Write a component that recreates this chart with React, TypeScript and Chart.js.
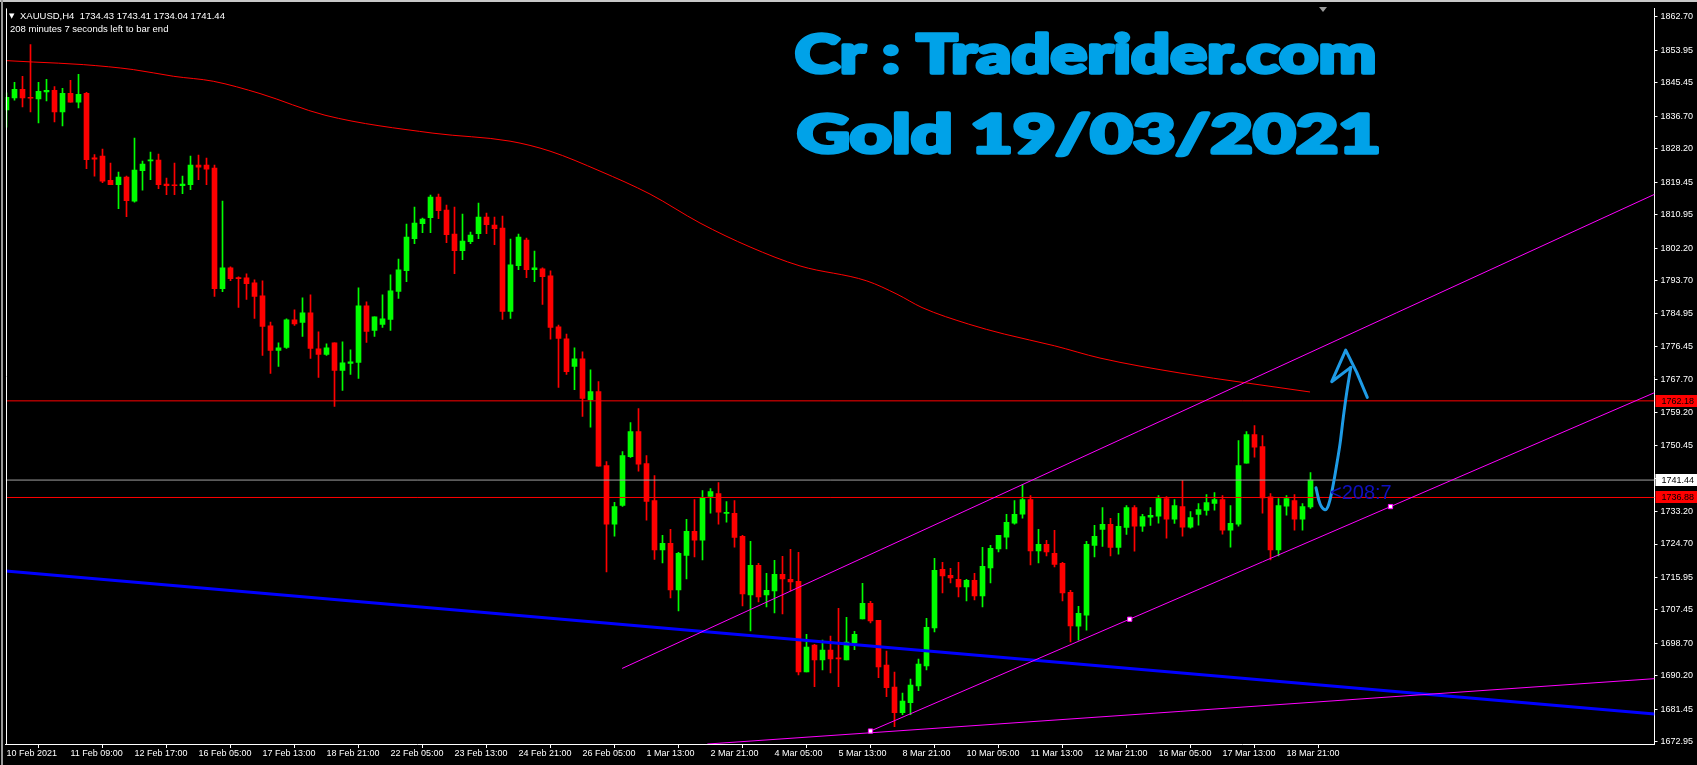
import React, { useEffect, useRef } from "react";
import { Chart, registerables } from "chart.js";
Chart.register(...registerables);

// ---------- DATA ----------
const opens = [1838.37,1841.51,1843.77,1841.68,1841.25,1843.08,1843.51,1837.85,1842.73,1840.38,1842.73,1825.83,1826.26,1819.90,1818.77,1820.77,1814.50,1822.43,1825.04,1825.22,1818.95,1818.77,1818.51,1818.77,1823.91,1823.91,1823.13,1791.59,1796.99,1794.47,1794.38,1793.07,1789.67,1781.83,1775.38,1776.17,1783.40,1782.70,1785.23,1775.82,1774.34,1777.39,1770.16,1771.99,1772.25,1787.06,1780.61,1782.18,1783.49,1790.81,1796.30,1804.66,1808.58,1810.15,1815.55,1812.15,1805.88,1801.52,1803.87,1805.96,1810.32,1808.23,1807.45,1785.58,1797.60,1804.31,1796.56,1796.73,1794.90,1781.57,1778.44,1771.21,1773.21,1762.50,1764.59,1745.25,1729.91,1734.79,1747.60,1754.13,1745.77,1736.10,1723.12,1724.86,1712.66,1721.72,1728.00,1725.73,1737.14,1737.93,1732.70,1732.70,1726.69,1711.36,1719.11,1711.36,1712.40,1716.76,1715.45,1714.93,1691.23,1698.20,1694.37,1696.90,1694.81,1694.37,1698.81,1705.09,1709.18,1704.74,1692.98,1687.23,1680.52,1683.13,1687.57,1692.80,1702.73,1718.07,1716.50,1715.45,1713.45,1715.19,1711.10,1718.42,1723.38,1726.52,1730.18,1732.53,1736.36,1722.86,1724.60,1722.24,1719.63,1712.05,1703.17,1706.04,1724.34,1728.52,1729.82,1723.81,1729.04,1734.27,1729.39,1731.74,1732.00,1736.62,1731.22,1734.53,1729.13,1732.44,1733.48,1735.31,1736.36,1728.34,1729.91,1745.85,1753.35,1750.21,1737.06,1723.12,1734.62,1736.10,1731.22,1734.43];
const highs = [1842.82,1845.60,1847.17,1855.45,1845.60,1846.39,1844.47,1844.04,1846.13,1847.70,1842.99,1826.70,1828.09,1824.43,1822.08,1821.04,1830.97,1824.96,1827.31,1826.79,1820.51,1824.43,1821.04,1826.26,1826.52,1825.74,1823.91,1814.50,1797.25,1794.64,1795.42,1793.86,1793.59,1782.79,1777.39,1783.66,1786.01,1789.15,1789.93,1780.26,1777.13,1777.39,1777.65,1775.56,1791.76,1788.10,1784.18,1789.93,1795.16,1799.34,1808.49,1812.93,1810.06,1816.07,1816.33,1813.46,1812.93,1811.10,1806.40,1813.98,1811.37,1810.32,1810.58,1804.57,1805.88,1804.83,1801.43,1797.00,1796.20,1782.00,1779.66,1776.09,1775.04,1770.34,1767.20,1746.29,1735.58,1748.91,1756.49,1760.14,1747.86,1742.63,1726.95,1728.52,1722.51,1731.13,1736.36,1738.71,1739.24,1740.80,1735.84,1736.10,1726.95,1725.38,1719.63,1717.02,1720.42,1721.46,1723.29,1722.51,1701.08,1698.46,1699.51,1700.56,1707.87,1705.52,1701.86,1714.41,1709.70,1704.74,1696.64,1691.15,1685.66,1689.32,1694.55,1705.26,1720.94,1719.90,1718.33,1719.90,1715.45,1717.02,1723.82,1724.34,1726.95,1732.44,1736.10,1740.28,1737.41,1728.52,1725.65,1728.26,1719.89,1712.58,1708.39,1725.38,1729.56,1734.27,1731.39,1732.70,1734.79,1734.79,1732.44,1734.27,1737.40,1737.14,1736.36,1741.32,1733.22,1735.31,1737.66,1738.19,1737.40,1734.79,1751.78,1754.13,1755.70,1753.09,1737.93,1736.62,1737.40,1737.66,1735.31,1743.41];
const lows = [1833.84,1840.90,1839.16,1837.85,1834.98,1840.73,1835.24,1834.19,1840.38,1838.90,1822.95,1821.04,1819.29,1818.77,1812.50,1810.41,1814.24,1817.38,1820.08,1817.73,1816.16,1816.16,1816.42,1817.46,1820.08,1818.77,1789.50,1790.80,1793.68,1786.62,1788.72,1783.75,1774.08,1769.37,1771.20,1775.91,1781.92,1779.04,1773.30,1768.33,1774.08,1760.75,1764.93,1769.11,1768.07,1777.48,1779.04,1781.40,1780.61,1788.98,1793.42,1803.35,1806.23,1806.23,1809.88,1803.61,1795.51,1799.17,1803.35,1804.66,1805.96,1803.09,1783.49,1783.75,1796.56,1794.46,1793.42,1787.41,1778.36,1765.72,1769.12,1765.11,1758.14,1755.27,1745.07,1717.37,1726.78,1734.53,1747.34,1743.77,1730.96,1720.68,1719.72,1710.57,1707.18,1715.54,1721.29,1720.51,1732.79,1729.91,1730.44,1723.90,1708.48,1701.95,1709.53,1708.22,1706.65,1706.39,1712.40,1690.45,1691.23,1687.31,1691.76,1690.97,1687.31,1694.37,1697.00,1705.09,1704.04,1689.67,1684.70,1676.86,1679.99,1679.99,1686.27,1691.76,1701.69,1711.88,1714.50,1710.84,1709.79,1710.05,1708.22,1714.50,1722.60,1723.38,1729.92,1731.48,1719.20,1719.72,1721.55,1718.67,1709.79,1699.07,1699.51,1702.13,1721.29,1724.07,1721.55,1722.07,1727.21,1722.85,1727.99,1729.56,1730.17,1726.25,1730.09,1726.78,1728.87,1729.65,1732.26,1733.57,1727.30,1723.90,1729.39,1745.85,1747.42,1732.79,1720.50,1721.55,1732.26,1728.34,1728.34,1734.04];
const closes = [1841.68,1843.77,1841.51,1841.42,1843.25,1843.51,1837.85,1842.73,1840.38,1842.47,1825.31,1825.48,1819.73,1818.77,1820.77,1814.59,1822.60,1824.17,1825.31,1818.77,1818.51,1818.51,1818.95,1823.91,1823.39,1822.87,1791.59,1796.99,1794.21,1794.21,1792.90,1789.50,1781.66,1775.38,1776.08,1783.40,1782.35,1785.23,1775.91,1774.34,1776.08,1770.16,1772.16,1772.42,1787.06,1780.35,1784.18,1783.66,1790.98,1796.47,1805.09,1808.75,1809.80,1815.55,1811.98,1805.70,1801.52,1804.05,1805.62,1810.32,1808.32,1807.27,1785.58,1797.77,1805.09,1796.56,1797.00,1794.73,1781.40,1778.53,1769.81,1773.21,1762.84,1764.59,1745.07,1729.91,1734.53,1747.86,1754.13,1745.60,1735.84,1723.12,1724.86,1712.66,1722.25,1728.00,1725.73,1736.88,1738.45,1733.05,1732.96,1726.43,1711.62,1719.11,1710.83,1712.58,1716.76,1715.54,1714.75,1691.23,1697.68,1694.37,1696.90,1694.63,1694.63,1698.99,1701.08,1709.18,1704.56,1692.54,1687.05,1680.52,1683.57,1687.75,1693.24,1702.91,1717.81,1716.33,1715.80,1713.45,1715.19,1711.10,1718.85,1723.56,1726.95,1730.35,1732.44,1736.36,1722.86,1724.60,1722.60,1719.37,1711.88,1703.25,1706.56,1724.60,1726.69,1729.82,1723.81,1729.30,1734.27,1729.39,1731.91,1732.18,1736.62,1731.22,1734.79,1729.13,1731.65,1733.74,1735.57,1736.36,1728.34,1730.09,1745.24,1753.35,1750.04,1736.79,1723.12,1734.79,1736.62,1731.22,1734.53,1741.44];

// moving average (red curve) read at bar positions
const maX = [-0.1,3.35,9.6,15.85,20.85,25.85,31.69,39.81,53.31,62.94,67.94,74.19,80.44,86.69,92.94,99.19,107.54,111.31,114.44,120.26,124.73,130.98,136.69,146.69,155.03,162.94];
const maY = [1851.28,1850.91,1850.23,1848.93,1847.18,1845.87,1842.65,1836.98,1832.28,1830.19,1827.57,1822.34,1816.33,1808.75,1802.48,1797.51,1793.59,1790.12,1786.62,1782.28,1779.67,1776.61,1773.39,1769.47,1766.86,1764.51];

// trend lines (bar index, price)
const upperChannelX = [76.95, 206];
const upperChannelY = [1692.11, 1816.26];
const lowerChannelX = [108, 206];
const lowerChannelY = [1675.73, 1764.33];
const baseLineX = [87.6, 206];
const baseLineY = [1672.32, 1689.44];
const blueLineX = [-0.1, 206];
const blueLineY = [1717.6, 1680.2];
const markerX = [108, 140.4, 173];
const markerY = [1675.73, 1705.0, 1734.5];

// horizontal levels
const redLevels = [1762.18, 1736.88];
const bidPrice = 1741.44;

// hand-drawn arrow
const arrowShaftX = [163.69,164.19,164.81,165.23,165.65,166.15,166.69,167.10,167.53,168.03];
const arrowShaftY = [1739.42,1735.24,1733.67,1734.79,1738.26,1743.94,1750.92,1757.87,1764.40,1770.94];
const arrowHeadX = [168.03,165.65,167.40,168.78,170.10];
const arrowHeadY = [1770.94,1767.20,1775.48,1769.63,1763.10];

// axes
const xTickIndex = [0,8,16,24,32,40,48,56,64,72,80,88,96,104,112,120,128,136,144,152,160];
const xTickLabels = ["10 Feb 2021","11 Feb 09:00","12 Feb 17:00","16 Feb 05:00","17 Feb 13:00","18 Feb 21:00","22 Feb 05:00","23 Feb 13:00","24 Feb 21:00","26 Feb 05:00","1 Mar 13:00","2 Mar 21:00","4 Mar 05:00","5 Mar 13:00","8 Mar 21:00","10 Mar 05:00","11 Mar 13:00","12 Mar 21:00","16 Mar 05:00","17 Mar 13:00","18 Mar 21:00"];
const yTickLabels = ["1862.70","1853.95","1845.45","1836.70","1828.20","1819.45","1810.95","1802.20","1793.70","1784.95","1776.45","1767.70","1759.20","1750.45","1741.95","1733.20","1724.70","1715.95","1707.45","1698.70","1690.20","1681.45","1672.95"];

const titleLine1 = "Cr : Traderider.com";
const titleLine2 = "Gold 19/03/2021";
const symbolText = "XAUUSD,H4";
const timerText = "208 minutes 7 seconds left to bar end";
const countdownText = "<208:7";

const W = 1697;
const H = 765;
const AX = '"Liberation Sans", Arial, sans-serif';

const pts = (xs: number[], ys: number[]) => xs.map((x, i) => ({ x, y: ys[i] }));

const overlayPlugin = {
  id: "overlay",
  beforeDraw(chart: any) {
    const ctx = chart.ctx;
    ctx.save();
    ctx.fillStyle = "#000";
    ctx.fillRect(0, 0, W, H);
    ctx.fillStyle = "#c8c8c8";
    ctx.fillRect(0, 0, W, 2);
    ctx.fillStyle = "#9a9a9a";
    ctx.fillRect(1, 0, 2, H);
    ctx.restore();
  },
  afterDraw(chart: any) {
    const ctx = chart.ctx;
    const ca = chart.chartArea;
    const ys = chart.scales.y;
    ctx.save();
    ctx.strokeStyle = "#ffffff";
    ctx.lineWidth = 1;
    ctx.beginPath();
    ctx.moveTo(Math.round(ca.left) + 0.5, ca.top);
    ctx.lineTo(Math.round(ca.left) + 0.5, ca.bottom);
    ctx.stroke();

    // header
    ctx.fillStyle = "#ffffff";
    ctx.textBaseline = "alphabetic";
    ctx.font = '7px "DejaVu Sans"';
    ctx.fillText("▼", 9, 18);
    ctx.font = `9.5px ${AX}`;
    const n = closes.length - 1;
    ctx.fillText(
      `${symbolText}  ${opens[n].toFixed(2)} ${highs[n].toFixed(2)} ${lows[n].toFixed(2)} ${closes[n].toFixed(2)}`,
      20, 19
    );
    ctx.fillText(timerText, 10, 32);

    // shift marker
    ctx.fillStyle = "#9a9a9a";
    ctx.beginPath();
    ctx.moveTo(1319, 7);
    ctx.lineTo(1327, 7);
    ctx.lineTo(1323, 12);
    ctx.closePath();
    ctx.fill();

    // titles (heavy)
    const drawFit = (t: string, x: number, base: number, w: number) => {
      ctx.font = '900 54px Lato, "DejaVu Sans", sans-serif';
      const sw = 3.5;
      const mw = ctx.measureText(t).width + sw;
      ctx.save();
      ctx.translate(x + sw / 2, base);
      ctx.scale(w / mw, 1);
      ctx.fillStyle = "#00a2e8";
      ctx.strokeStyle = "#00a2e8";
      ctx.lineWidth = sw;
      ctx.lineJoin = "round";
      ctx.strokeText(t, 0, 0);
      ctx.fillText(t, 0, 0);
      ctx.restore();
    };
    drawFit(titleLine1, 793, 73, 586);
    drawFit(titleLine2, 795, 153, 589);

    // countdown
    ctx.fillStyle = "#1010c0";
    ctx.font = `20px ${AX}`;
    ctx.fillText(countdownText, 1330, 499);

    // price label boxes
    const box = (price: number, bg: string, fg: string) => {
      const y = ys.getPixelForValue(price);
      ctx.fillStyle = bg;
      ctx.fillRect(ca.right + 1, Math.round(y) - 6, W - ca.right - 1, 12);
      ctx.fillStyle = fg;
      ctx.font = `9px ${AX}`;
      ctx.textBaseline = "middle";
      ctx.fillText(price.toFixed(2), ca.right + 7, Math.round(y) + 0.5);
    };
    box(redLevels[0], "#ff0000", "#000000");
    box(bidPrice, "#ffffff", "#000000");
    box(redLevels[1], "#ff0000", "#000000");
    ctx.restore();
  },
};

export default function App() {
  const ref = useRef<HTMLCanvasElement | null>(null);
  useEffect(() => {
    document.body.style.margin = "0";
    document.body.style.background = "#000";
    const idx = closes.map((_, i) => i);
    const colors = idx.map((i) => (closes[i] >= opens[i] ? "#00ff00" : "#ff0000"));
    const xMin = -0.1;
    const xMax = 206;
    const hLine = (v: number) => [{ x: xMin, y: v }, { x: xMax, y: v }];
    const lineBase = {
      type: "line" as const,
      pointRadius: 0,
      borderWidth: 1,
      fill: false,
      tension: 0,
    };
    const chart = new Chart(ref.current as HTMLCanvasElement, {
      type: "bar",
      data: {
        datasets: [
          { ...lineBase, label: "arrowHead", data: pts(arrowHeadX, arrowHeadY), borderColor: "#1e9be6", borderWidth: 3, borderJoinStyle: "round", borderCapStyle: "round", order: 0 } as any,
          { ...lineBase, label: "arrowShaft", data: pts(arrowShaftX, arrowShaftY), borderColor: "#1e9be6", borderWidth: 3, borderCapStyle: "round", tension: 0.35, order: 0 } as any,
          { ...lineBase, label: "markers", data: pts(markerX, markerY), showLine: false, pointStyle: "rect", pointRadius: 3, pointBackgroundColor: "#ffffff", pointBorderColor: "#ff00ff", pointBorderWidth: 1, order: 1 } as any,
          { ...lineBase, label: "upper", data: pts(upperChannelX, upperChannelY), borderColor: "#ff00ff", order: 2 } as any,
          { ...lineBase, label: "lower", data: pts(lowerChannelX, lowerChannelY), borderColor: "#ff00ff", order: 2 } as any,
          { ...lineBase, label: "base", data: pts(baseLineX, baseLineY), borderColor: "#ff00ff", order: 2 } as any,
          { ...lineBase, label: "blue", data: pts(blueLineX, blueLineY), borderColor: "#0000ff", borderWidth: 3, order: 3 } as any,
          { ...lineBase, label: "ma", data: pts(maX, maY), borderColor: "#ff0000", cubicInterpolationMode: "monotone", order: 4 } as any,
          { ...lineBase, label: "lvl1", data: hLine(redLevels[0]), borderColor: "#ff0000", order: 5 } as any,
          { ...lineBase, label: "lvl2", data: hLine(redLevels[1]), borderColor: "#ff0000", order: 5 } as any,
          { ...lineBase, label: "bid", data: hLine(bidPrice), borderColor: "#a0a0a0", order: 5 } as any,
          {
            label: "bodies",
            data: idx.map((i) => ({ x: i, y: [opens[i], closes[i]] })),
            backgroundColor: colors,
            borderWidth: 0,
            barThickness: 5,
            minBarLength: 1,
            grouped: false,
            order: 9,
          } as any,
          {
            label: "wicks",
            data: idx.map((i) => ({ x: i, y: [lows[i], highs[i]] })),
            backgroundColor: colors,
            borderWidth: 0,
            barThickness: 1,
            minBarLength: 1,
            grouped: false,
            order: 10,
          } as any,
        ],
      },
      options: {
        animation: false,
        responsive: false,
        devicePixelRatio: 1,
        layout: { padding: { left: 5.7, top: 7, right: 0, bottom: 0 } },
        plugins: { legend: { display: false }, tooltip: { enabled: false } },
        events: [],
        scales: {
          x: {
            type: "linear",
            min: xMin,
            max: xMax,
            offset: false,
            position: "bottom",
            afterFit: (s: any) => { s.height = 21; },
            afterBuildTicks: (s: any) => { s.ticks = xTickIndex.map((v) => ({ value: v })); },
            grid: { display: true, drawOnChartArea: false, drawTicks: true, tickLength: 4, color: "#ffffff" },
            border: { display: true, color: "#ffffff", width: 1 },
            ticks: {
              autoSkip: false,
              maxRotation: 0,
              minRotation: 0,
              align: "start",
              padding: 0,
              color: "#ffffff",
              font: { family: AX, size: 9 },
              callback: (_v: any, i: number) => xTickLabels[i],
            },
          },
          y: {
            type: "linear",
            position: "right",
            min: 1672.33,
            max: 1864.95,
            afterFit: (s: any) => { s.width = 42.5; },
            afterBuildTicks: (s: any) => { s.ticks = yTickLabels.map((t) => ({ value: parseFloat(t) })); },
            grid: { display: true, drawOnChartArea: false, drawTicks: true, tickLength: 3, color: "#ffffff" },
            border: { display: true, color: "#ffffff", width: 1 },
            ticks: {
              autoSkip: false,
              padding: 3,
              color: "#ffffff",
              font: { family: AX, size: 9 },
              callback: (_v: any, i: number) => yTickLabels[i],
            },
          },
        },
      } as any,
      plugins: [overlayPlugin],
    });
    return () => chart.destroy();
  }, []);
  return (
    <div style={{ position: "absolute", left: 0, top: 0, width: W, height: H, background: "#000" }}>
      <canvas ref={ref} width={W} height={H} style={{ display: "block", width: W, height: H }} />
    </div>
  );
}
